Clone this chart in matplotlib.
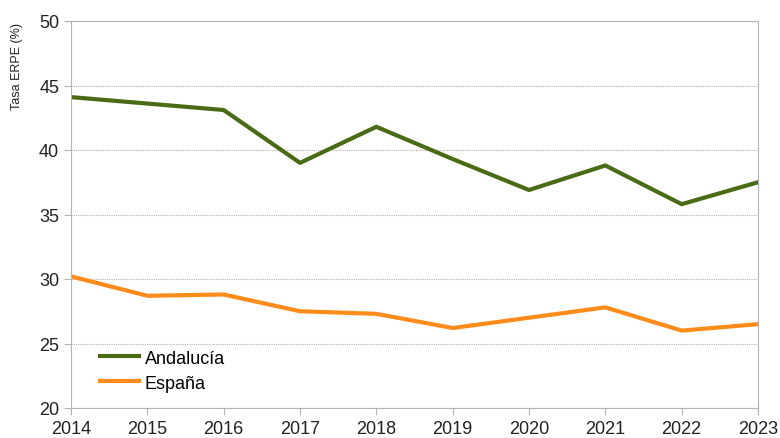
import matplotlib.pyplot as plt

plt.rcParams['font.family'] = ['Liberation Sans', 'DejaVu Sans']

years = [2014, 2015, 2016, 2017, 2018, 2019, 2020, 2021, 2022, 2023]
andalucia = [44.1, 43.6, 43.1, 39.0, 41.8, 39.3, 36.9, 38.8, 35.8, 37.5]
espana = [30.2, 28.7, 28.8, 27.5, 27.3, 26.2, 27.0, 27.8, 26.0, 26.5]

fig = plt.figure(figsize=(7.8, 4.39), dpi=100)
ax = fig.add_axes([71/780, 30/439, 687/780, 387/439])

ax.plot(years, andalucia, color='#4a6b16', lw=3, label='Andalucía')
ax.plot(years, espana, color='#ff8c1a', lw=3, label='España')

ax.set_xlim(2014, 2023)
ax.set_ylim(20, 50)
ax.set_xticks(years)
ax.set_yticks(range(20, 51, 5))
ax.yaxis.grid(True, linestyle=(0, (1, 1)), color='#b3b3b3', lw=0.8)
ax.set_axisbelow(True)
for s in ax.spines.values():
    s.set_color('#b3b3b3')
ax.tick_params(colors='#b3b3b3', labelcolor='#222222', labelsize=13, length=5)
ax.set_ylabel('Tasa ERPE (%)', fontsize=9, color='#222222')
ax.yaxis.set_label_coords(-0.07, 0.885)

ax.legend(loc='lower left', bbox_to_anchor=(0.018, 0.0), frameon=False,
          fontsize=13, handlelength=2.2, labelspacing=0.45, handletextpad=0.3)

fig.savefig('out.png', dpi=100)
